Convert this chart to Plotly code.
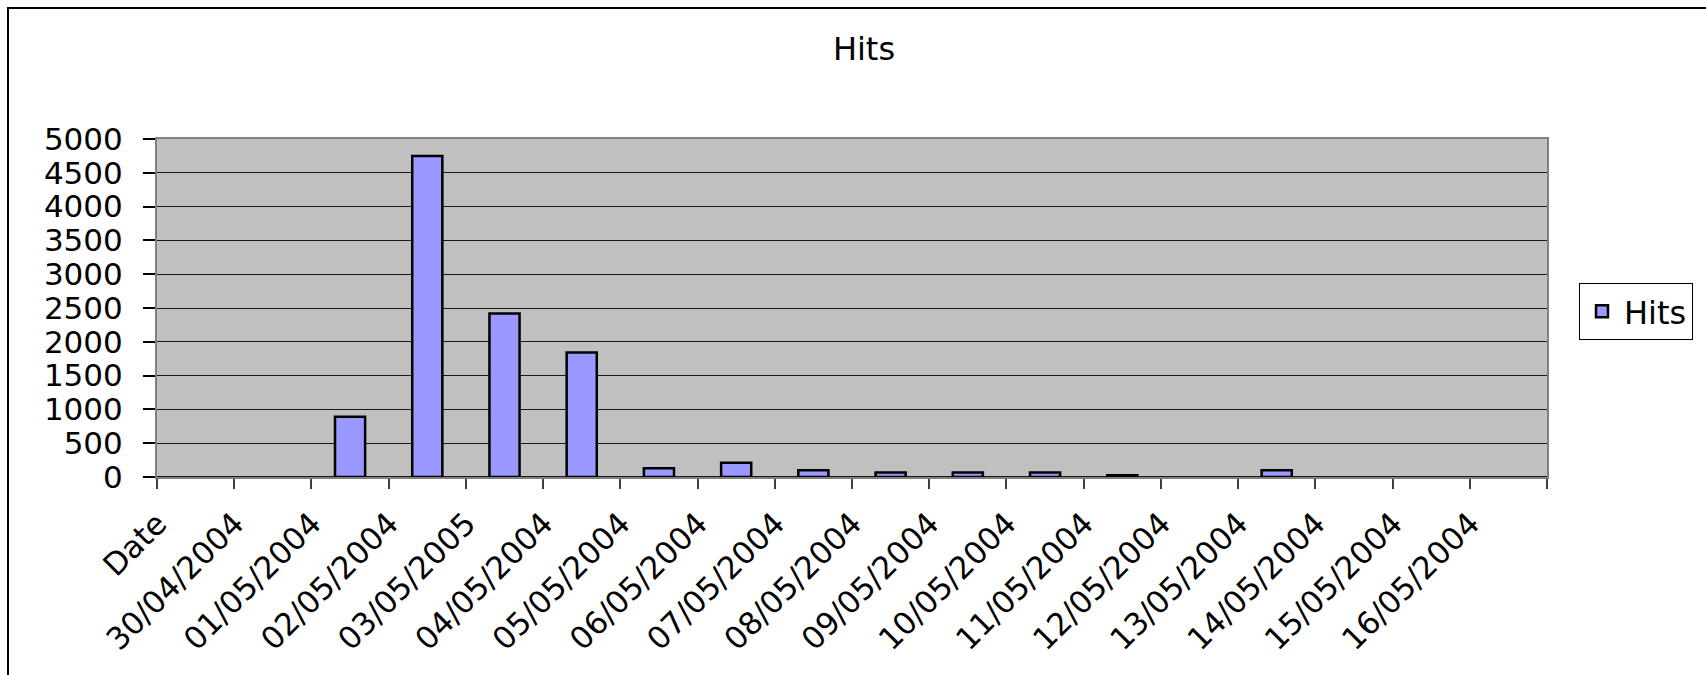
import plotly.graph_objects as go

# Daily hit counts (first category is the sheet's header cell; None = empty cell)
dates = [
    "Date", "30/04/2004", "01/05/2004", "02/05/2004", "03/05/2005",
    "04/05/2004", "05/05/2004", "06/05/2004", "07/05/2004", "08/05/2004",
    "09/05/2004", "10/05/2004", "11/05/2004", "12/05/2004", "13/05/2004",
    "14/05/2004", "15/05/2004", "16/05/2004",
]
hits = [None, None, 890, 4750, 2420, 1840, 130, 210, 100, 65, 65, 65, 25,
        None, 100, None, None, None]
y_ticks = list(range(0, 5001, 500))

FONT = "DejaVu Sans"
W, H = 1706, 675
L, R, T, B = 157, 159, 139, 198

fig = go.Figure()
fig.add_trace(go.Bar(
    x=dates, y=hits, name="Hits",
    marker=dict(color="#9999FF", line=dict(color="black", width=2.5)),
))

def px_x(p):
    return (p - L) / (W - L - R)

def px_y(p):
    return (H - B - p) / (H - T - B)

fig.update_layout(
    width=W, height=H,
    margin=dict(l=L, r=R, t=T, b=B, pad=0),
    paper_bgcolor="white", plot_bgcolor="#C0C0C0",
    font=dict(family=FONT, size=31, color="black"),
    bargap=0.61,
    title=dict(text="Hits", x=px_x(864), xanchor="center",
               xref="paper", y=1 - 49 / H, yanchor="middle",
               font=dict(family=FONT, size=32, color="black")),
    showlegend=True,
    legend=dict(x=px_x(1579), y=px_y(283), xanchor="left", yanchor="top",
                bgcolor="white", bordercolor="black", borderwidth=1,
                itemwidth=34,
                font=dict(family=FONT, size=32, color="black")),
    xaxis=dict(
        type="category", tickangle=-45, tickson="boundaries",
        ticks="outside", ticklen=10, tickcolor="#404040", tickwidth=1.5,
        ticklabelshift=-38, ticklabelstandoff=14,
        showgrid=False, showline=True, linecolor="#808080", linewidth=2,
        mirror=True, tickfont=dict(family=FONT, size=31, color="black"),
    ),
    yaxis=dict(
        range=[0, 5000], tickvals=y_ticks, ticks="outside", ticklen=12,
        tickcolor="black", tickwidth=1.5, ticklabelstandoff=14,
        showgrid=True, gridcolor="#1a1a1a", gridwidth=1.3,
        zeroline=True, zerolinecolor="#1a1a1a", zerolinewidth=2,
        showline=True, linecolor="#808080", linewidth=2, mirror=True,
        tickfont=dict(family=FONT, size=31, color="black"),
    ),
    shapes=[dict(type="rect", xref="paper", yref="paper",
                 x0=px_x(8), x1=px_x(1720), y0=px_y(690), y1=px_y(8),
                 line=dict(color="black", width=2), fillcolor="rgba(0,0,0,0)",
                 layer="below")],
)

fig.write_html("out.html")
